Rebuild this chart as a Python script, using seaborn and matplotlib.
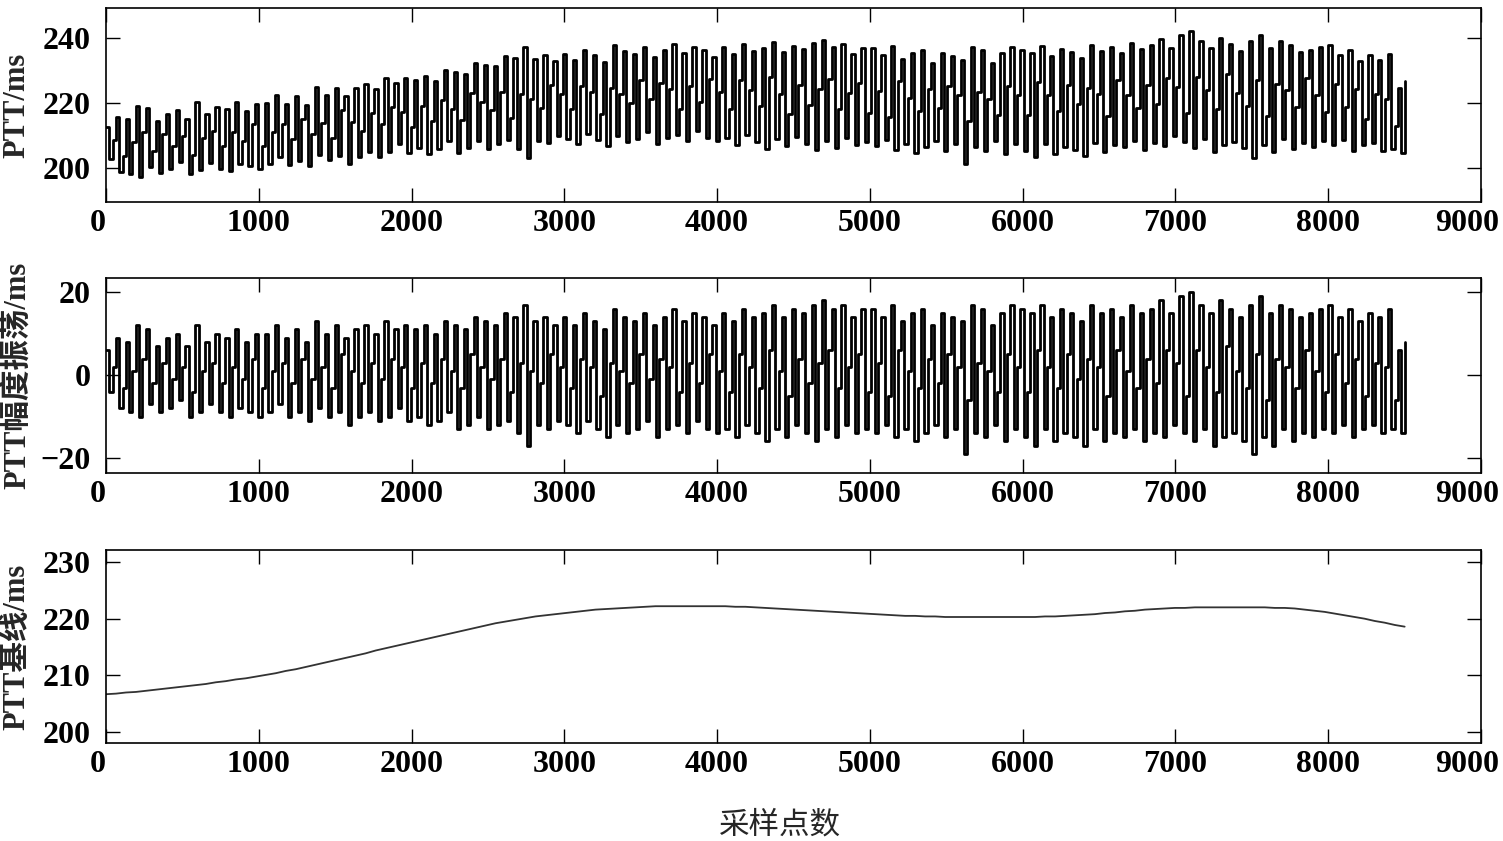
import numpy as np
import matplotlib
matplotlib.use("Agg")
import matplotlib.pyplot as plt
import matplotlib.transforms as mtransforms
import seaborn as sns

# DATA

# respiratory oscillation of PTT per cycle: peak, trough and the step in between (ms)
amp_peaks = [6, 9, 8, 12, 11, 7, 9, 10, 7, 12, 8, 10, 9, 11, 8, 10,
             10, 12, 9, 11, 8, 13, 10, 12, 9, 11, 12, 10, 13, 11, 12,
             11, 12, 10, 13, 12, 11, 14, 13, 12, 15, 14, 17, 13, 14, 12,
             14, 12, 15, 13, 11, 16, 14, 13, 15, 12, 14, 16, 13, 15, 14, 12,
             15, 13, 16, 14, 15, 17, 14, 16, 15, 17, 18, 16, 17, 14, 16,
             16, 14, 17, 13, 15, 16, 12, 15, 14, 13, 17, 16, 12, 15, 17,
             16, 15, 17, 14, 16, 15, 13, 17, 15, 16, 14, 17, 15, 16, 18, 15,
             19, 20, 17, 15, 18, 16, 14, 17, 19, 15, 17, 16, 14, 15, 16,
             17, 14, 16, 13, 15, 14, 16, 6]

amp_troughs = [-4, -8, -9, -10, -7, -9, -8, -6, -10, -9, -7, -9, -10, -8, -9, -10,
               -9, -7, -10, -9, -11, -8, -10, -9, -12, -10, -9, -11, -10, -8, -11,
               -10, -12, -11, -9, -13, -12, -10, -13, -12, -11, -14, -17, -12, -13, -11,
               -12, -14, -11, -13, -15, -12, -14, -13, -11, -15, -13, -12, -14, -11, -13, -14,
               -13, -15, -12, -14, -16, -13, -15, -12, -14, -16, -13, -15, -12, -14, -13,
               -14, -12, -15, -13, -16, -14, -12, -15, -13, -19, -14, -15, -12, -16, -13,
               -15, -17, -13, -16, -14, -15, -17, -13, -16, -14, -15, -13, -16, -14, -15, -12,
               -14, -16, -13, -17, -15, -14, -16, -19, -15, -17, -13, -16, -14, -15, -13,
               -14, -12, -15, -13, -12, -14, -13, -14]

amp_mids = [2, -3, 1, 4, -2, 3, -1, 2, -4, 1, 3, -2, 2, -1, 4, -3,
            1, 3, -2, 4, -1, 2, -3, 5, 1, -2, 3, -1, 4, 2, -3,
            3, -2, 4, 1, -3, 5, 2, -1, 4, -4, 3, 1, -2, 5, 2,
            -3, 4, 2, -5, 3, 1, -2, 5, -1, 4, 2, -4, 3, -2, 5, 1,
            -4, 5, 2, -3, 6, 1, -5, 4, -2, 3, 6, -3, 2, 5, -4,
            3, -5, 6, 1, -3, 4, -2, 5, 2, -6, 3, 1, -4, 5, 2,
            -4, 6, 2, -3, 5, -1, 4, 2, -5, 6, 1, -3, 4, -2, 6, 3,
            -5, 6, 2, -4, 7, 1, -3, 5, -6, 4, 2, -3, 6, 1, -4,
            5, -2, 4, -5, 3, 2, -6, 8]

# PTT baseline, one value per cycle (ms)
baseline = [206.7, 206.8, 207.0, 207.1, 207.3, 207.5, 207.7, 207.9, 208.1, 208.3, 208.5, 208.8, 209.0, 209.3, 209.5, 209.8,
            210.1, 210.4, 210.8, 211.1, 211.5, 211.9, 212.3, 212.7, 213.1, 213.5, 213.9, 214.4, 214.8, 215.2, 215.6,
            216.0, 216.4, 216.8, 217.2, 217.6, 218.0, 218.4, 218.8, 219.2, 219.5, 219.8, 220.1, 220.4, 220.6, 220.8,
            221.0, 221.2, 221.4, 221.6, 221.7, 221.8, 221.9, 222.0, 222.1, 222.2, 222.2, 222.2, 222.2, 222.2, 222.2, 222.2,
            222.2, 222.1, 222.1, 222.0, 221.9, 221.8, 221.7, 221.6, 221.5, 221.4, 221.3, 221.2, 221.1, 221.0, 220.9,
            220.8, 220.7, 220.6, 220.5, 220.5, 220.4, 220.4, 220.3, 220.3, 220.3, 220.3, 220.3, 220.3, 220.3, 220.3,
            220.3, 220.3, 220.4, 220.4, 220.5, 220.6, 220.7, 220.8, 221.0, 221.1, 221.3, 221.4, 221.6, 221.7, 221.8, 221.9,
            221.9, 222.0, 222.0, 222.0, 222.0, 222.0, 222.0, 222.0, 222.0, 221.9, 221.9, 221.8, 221.6, 221.4, 221.2,
            220.9, 220.6, 220.3, 220.0, 219.6, 219.3, 218.9, 218.6]

last_sample = 8500
x_ticks = [0, 1000, 2000, 3000, 4000, 5000, 6000, 7000, 8000, 9000]
ptt_ticks = [200, 220, 240]
amp_ticks = [-20, 0, 20]
base_ticks = [200, 210, 220, 230]

ylabels = ["PTT/ms", "PTT幅度振荡/ms", "PTT基线/ms"]
xlabel = "采样点数"

# BUILD SERIES

n = len(baseline)
amp = np.ravel(np.column_stack([amp_peaks, amp_troughs, amp_mids]))
base3 = np.repeat(baseline, 3)
ptt = base3 + amp
xs = np.linspace(0, last_sample, 3 * n)
xb = np.linspace(0, last_sample, n)

# PLOT

sns.set_style("ticks")
plt.rcParams["font.family"] = ["Liberation Serif", "Noto Sans CJK SC"]
plt.rcParams["font.weight"] = "bold"
plt.rcParams["axes.unicode_minus"] = True

fig = plt.figure(figsize=(15.03, 8.41), dpi=100)

left, width = 0.0705, 0.9149
ax1 = fig.add_axes([left, 0.7598, width, 0.2307])
ax2 = fig.add_axes([left, 0.4376, width, 0.2318])
ax3 = fig.add_axes([left, 0.1165, width, 0.2295])

sns.lineplot(x=xs, y=ptt, ax=ax1, color="black", linewidth=2.0,
             drawstyle="steps-post", estimator=None, sort=False)
sns.lineplot(x=xs, y=amp, ax=ax2, color="black", linewidth=2.0,
             drawstyle="steps-post", estimator=None, sort=False)
sns.lineplot(x=xb, y=baseline, ax=ax3, color="#333333", linewidth=1.3,
             estimator=None, sort=False)

ax1.set_ylim(189.5, 249.2)
ax2.set_ylim(-23.6, 23.4)
ax3.set_ylim(198.1, 232.1)
ax1.set_yticks(ptt_ticks)
ax2.set_yticks(amp_ticks)
ax3.set_yticks(base_ticks)

for ax, lab in zip([ax1, ax2, ax3], ylabels):
    ax.set_xlim(0, 9000)
    ax.set_xticks(x_ticks)
    for s in ax.spines.values():
        s.set_visible(True)
        s.set_linewidth(1.2)
        s.set_color("black")
    ax.tick_params(direction="in", top=True, right=True, length=10,
                   width=1.0, labelsize=23, colors="black")
    ax.tick_params(axis="x", pad=5)
    ax.tick_params(axis="y", pad=11)
    ax.set_ylabel(lab, fontsize=22, fontweight="bold", labelpad=6)
    ax.yaxis.set_label_coords(-0.054, 0.5)
    ax.set_xlabel("")
    # nudge the end labels inward like the source figure
    labels = ax.get_xticklabels()
    shift_l = mtransforms.ScaledTranslation(-6 / 72, 0, fig.dpi_scale_trans)
    shift_r = mtransforms.ScaledTranslation(-10 / 72, 0, fig.dpi_scale_trans)
    labels[0].set_transform(labels[0].get_transform() + shift_l)
    labels[-1].set_transform(labels[-1].get_transform() + shift_r)

fig.text(0.519, 0.018, xlabel, ha="center", va="center", fontsize=22,
         fontweight="medium")

fig.savefig("out.png", dpi=100)
